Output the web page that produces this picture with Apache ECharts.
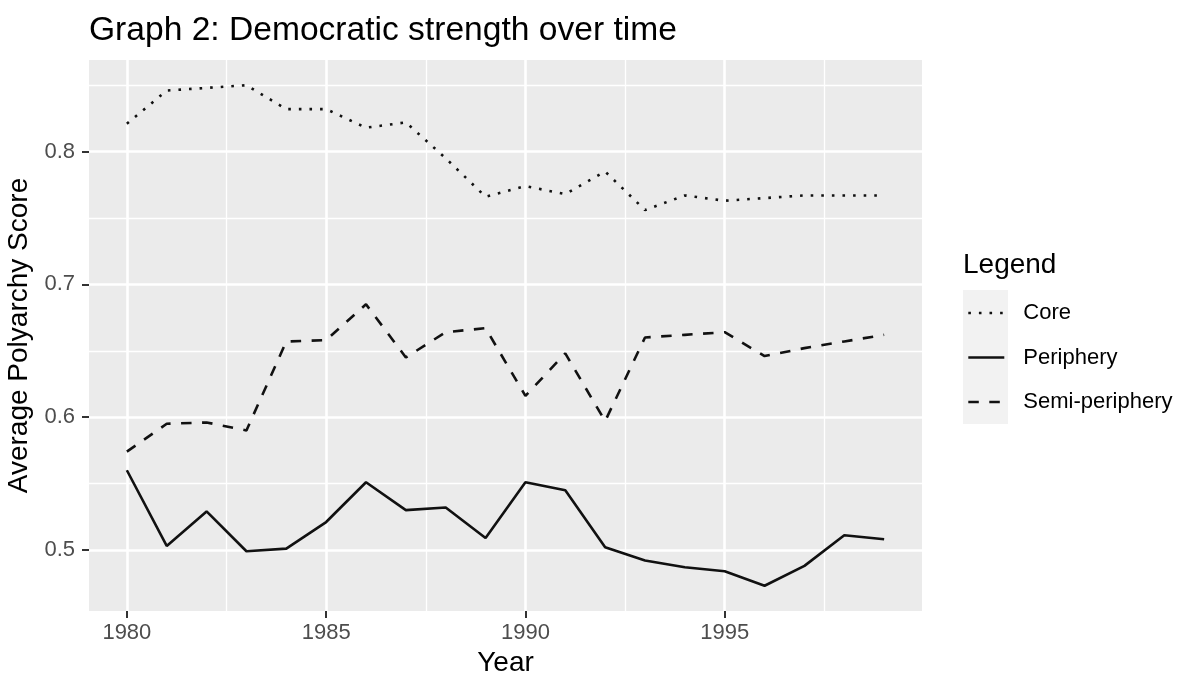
<!DOCTYPE html>
<html>
<head>
<meta charset="utf-8">
<script src="https://cdn.jsdelivr.net/npm/echarts@6/dist/echarts.min.js"></script>
<style>
  html, body { margin: 0; padding: 0; background: #fff; }
  #chart { width: 1180px; height: 675px; }
</style>
</head>
<body>
<div id="chart"></div>
<script>
const years = [1980,1981,1982,1983,1984,1985,1986,1987,1988,1989,1990,1991,1992,1993,1994,1995,1996,1997,1998,1999];
const core = [0.821,0.846,0.848,0.850,0.832,0.832,0.818,0.822,0.795,0.766,0.774,0.768,0.785,0.756,0.767,0.763,0.765,0.767,0.767,0.767];
const periphery = [0.560,0.503,0.529,0.499,0.501,0.521,0.551,0.530,0.532,0.509,0.551,0.545,0.502,0.492,0.487,0.484,0.473,0.488,0.511,0.508];
const semiPeriphery = [0.574,0.595,0.596,0.590,0.657,0.658,0.685,0.645,0.664,0.667,0.616,0.648,0.597,0.660,0.662,0.664,0.646,0.652,0.657,0.662];
const xMajor = [1980,1985,1990,1995];
const xMinor = [1982.5,1987.5,1992.5,1997.5];
const yMajor = [0.5,0.6,0.7,0.8];
const yMinor = [0.55,0.65,0.75,0.85];
const seriesNames = ['Core','Periphery','Semi-periphery'];

const FONT = 'Liberation Sans, Arial, Helvetica, sans-serif';
const xMin = 1979.05, xMax = 1999.95, yMin = 0.454, yMax = 0.869;

function pairs(vals){ return years.map((y,i)=>[y, vals[i]]); }

const chart = echarts.init(document.getElementById('chart'), null, {renderer:'canvas'});

const option = {
  animation:false,
  backgroundColor:'#FFFFFF',
  title:[
    {text:'Graph 2: Democratic strength over time', left:89, top:14, padding:0,
     textStyle:{color:'#000', fontSize:33.6, fontWeight:'normal', fontFamily:FONT}},
    {text:'Legend', left:963, top:251, padding:0,
     textStyle:{color:'#000', fontSize:28, fontWeight:'normal', fontFamily:FONT}}
  ],
  graphic:[
    {type:'rect', left:963, top:290, z:-1, shape:{width:45, height:134}, style:{fill:'#F2F2F2'}}
  ],
  legend:{
    data:seriesNames, orient:'vertical', left:967, top:302, padding:0,
    itemWidth:36, itemHeight:22, itemGap:22.5,
    itemStyle:{opacity:0},
    lineStyle:{width:2.6},
    textStyle:{color:'#000', fontSize:22, fontFamily:FONT, padding:[0,0,0,14]},
    selectedMode:false
  },
  grid:{left:89, right:258, top:60, bottom:64, containLabel:false, outerBoundsMode:'none',
        show:true, backgroundColor:'#EBEBEB', borderWidth:0},
  xAxis:[
    {type:'value', min:xMin, max:xMax, position:'bottom',
     axisLine:{show:false},
     axisTick:{show:true, length:7, lineStyle:{color:'#333333', width:2}, customValues:xMajor},
     axisLabel:{show:true, color:'#4D4D4D', fontSize:22, fontFamily:FONT, margin:11, customValues:xMajor, formatter:v=>String(v)},
     splitLine:{show:true, lineStyle:{color:'#FFFFFF', width:2.6}},
     name:'Year', nameLocation:'middle', nameGap:38,
     nameTextStyle:{color:'#000', fontSize:28, fontFamily:FONT}},
    {type:'value', min:xMin, max:xMax, position:'bottom', gridIndex:0,
     axisLine:{show:false},
     axisTick:{show:false, customValues:xMinor},
     axisLabel:{show:false, customValues:xMinor},
     splitLine:{show:true, lineStyle:{color:'#FFFFFF', width:1.3}}}
  ],
  yAxis:[
    {type:'value', min:yMin, max:yMax,
     axisLine:{show:false},
     axisTick:{show:true, length:7, lineStyle:{color:'#333333', width:2}, customValues:yMajor},
     axisLabel:{show:true, color:'#4D4D4D', fontSize:22, fontFamily:FONT, margin:14, customValues:yMajor, formatter:v=>v.toFixed(1)},
     splitLine:{show:true, lineStyle:{color:'#FFFFFF', width:2.6}},
     name:'Average Polyarchy Score', nameLocation:'middle', nameGap:50,
     nameTextStyle:{color:'#000', fontSize:28, fontFamily:FONT}},
    {type:'value', min:yMin, max:yMax,
     axisLine:{show:false},
     axisTick:{show:false, customValues:yMinor},
     axisLabel:{show:false, customValues:yMinor},
     splitLine:{show:true, lineStyle:{color:'#FFFFFF', width:1.3}}}
  ],
  series:[
    {name:'Core', type:'line', data:pairs(core), symbol:'none', showSymbol:false,
     color:'#111111', lineStyle:{color:'#111111', width:2.6, type:[2.6,8], cap:'butt'}, z:5},
    {name:'Periphery', type:'line', data:pairs(periphery), symbol:'none', showSymbol:false,
     color:'#111111', lineStyle:{color:'#111111', width:2.6, type:'solid'}, z:5},
    {name:'Semi-periphery', type:'line', data:pairs(semiPeriphery), symbol:'none', showSymbol:false,
     color:'#111111', lineStyle:{color:'#111111', width:2.6, type:[10.5,10.5], cap:'butt'}, z:5}
  ]
};
chart.setOption(option);
</script>
</body>
</html>
